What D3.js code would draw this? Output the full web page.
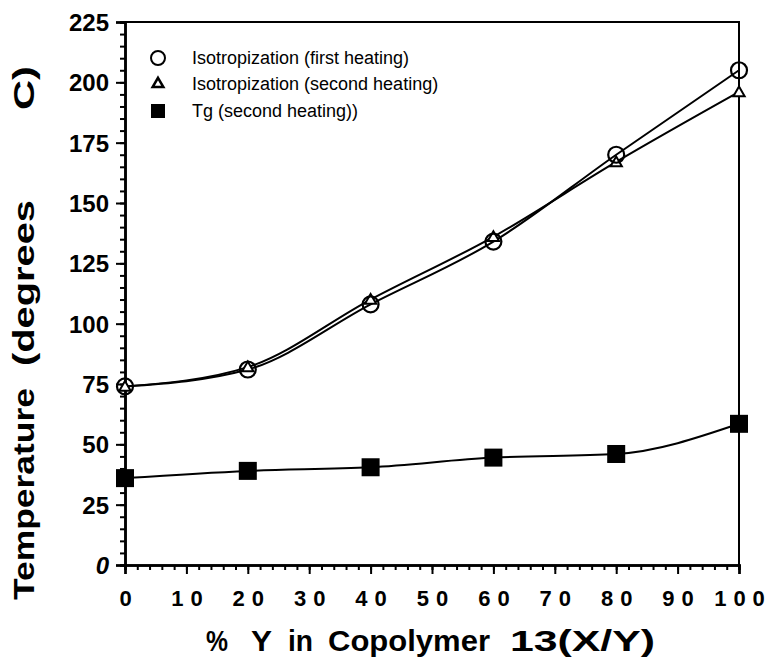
<!DOCTYPE html>
<html>
<head>
<meta charset="utf-8">
<script src="https://cdn.jsdelivr.net/npm/d3@7"></script>
<style>
  body { margin: 0; background: #fff; }
  svg { display: block; font-family: Helvetica, Arial, "Liberation Sans", sans-serif; }
</style>
</head>
<body>
<div id="chart"></div>
<script>
// values
const copolymerY = [0, 20, 40, 60, 80, 100];
const isoFirst = [74, 81, 108, 134, 170, 205];
const isoSecond = [74, 82, 110, 136, 167, 196];
const tgSecond = [36, 39, 40.5, 44.5, 46, 58.5];
const seriesNames = ["Isotropization (first heating)", "Isotropization (second heating)", "Tg (second heating))"];
const yTicks = [0, 25, 50, 75, 100, 125, 150, 175, 200, 225];
const xTicks = [0, 10, 20, 30, 40, 50, 60, 70, 80, 90, 100];

const width = 771;
const height = 659;
const plotLeft = 125, plotRight = 739, plotTop = 22, plotBottom = 565;

const svg = d3.select("#chart").append("svg")
    .attr("width", width)
    .attr("height", height);

const x = d3.scaleLinear().domain([0, 100]).range([plotLeft, plotRight]);
const y = d3.scaleLinear().domain([0, 225]).range([plotBottom, plotTop]);

// frame (top and right)
svg.append("path")
    .attr("d", `M${plotLeft},${plotTop}H${plotRight}V${plotBottom}`)
    .attr("fill", "none")
    .attr("stroke", "#000")
    .attr("stroke-width", 2);

// minor ticks
svg.append("g")
    .attr("transform", `translate(${plotLeft},0)`)
    .call(d3.axisLeft(y).tickValues(d3.range(0, 226, 5)).tickSize(5).tickFormat(""));
svg.append("g")
    .attr("transform", `translate(0,${plotBottom})`)
    .call(d3.axisBottom(x).tickValues(d3.range(0, 101, 2)).tickSize(5).tickFormat(""));

// major ticks + labels
const yAxis = svg.append("g")
    .attr("transform", `translate(${plotLeft},0)`)
    .call(d3.axisLeft(y).tickValues(yTicks).tickSize(9).tickPadding(7));
yAxis.selectAll("text")
    .attr("font-size", 24)
    .attr("font-weight", "bold")
    .attr("font-family", "Helvetica, Arial, 'Liberation Sans', sans-serif")
    .attr("dy", "0.36em")
    .attr("font-style", d => d === 0 ? "italic" : null);

const xAxis = svg.append("g")
    .attr("transform", `translate(0,${plotBottom})`)
    .call(d3.axisBottom(x).tickValues(xTicks).tickSize(9).tickPadding(16));
xAxis.selectAll("text")
    .attr("font-size", 22)
    .attr("font-weight", "bold")
    .attr("font-family", "Helvetica, Arial, 'Liberation Sans', sans-serif")
    .attr("letter-spacing", "7px")
    .attr("dx", "3.5px");

svg.selectAll(".domain").attr("stroke-width", 2.5);
svg.selectAll(".tick line").attr("stroke-width", 2);

// axis titles, word by word
const xTitleWords = ["%", "Y", "in", "Copolymer", "13(X/Y)"];
const xTitleSpan = [[206, 228], [251, 272], [288, 313], [328, 490], [510, 655]];
svg.append("g").selectAll("text")
    .data(xTitleWords)
    .join("text")
    .attr("x", (d, i) => xTitleSpan[i][0])
    .attr("y", 651)
    .attr("font-size", 29)
    .attr("font-weight", "bold")
    .attr("textLength", (d, i) => xTitleSpan[i][1] - xTitleSpan[i][0])
    .attr("lengthAdjust", "spacingAndGlyphs")
    .text(d => d);

const yTitleWords = ["Temperature", "(degrees", "C)"];
const yTitleSpan = [[600, 388], [366, 200], [110, 66]];
svg.append("g").selectAll("text")
    .data(yTitleWords)
    .join("text")
    .attr("transform", (d, i) => `translate(34,${yTitleSpan[i][0]}) rotate(-90)`)
    .attr("font-size", 29)
    .attr("font-weight", "bold")
    .attr("textLength", (d, i) => yTitleSpan[i][0] - yTitleSpan[i][1])
    .attr("lengthAdjust", "spacingAndGlyphs")
    .text(d => d);

// lines
const line = d3.line()
    .x((d, i) => x(copolymerY[i]))
    .y(d => y(d))
    .curve(d3.curveMonotoneX);

[isoFirst, isoSecond, tgSecond].forEach(vals => {
    svg.append("path")
        .attr("d", line(vals))
        .attr("fill", "none")
        .attr("stroke", "#000")
        .attr("stroke-width", 2);
});

// markers
const tri = d3.symbol().type(d3.symbolTriangle);

svg.append("g").selectAll("path")
    .data(isoSecond)
    .join("path")
    .attr("transform", (d, i) => `translate(${x(copolymerY[i])},${y(d) + 1})`)
    .attr("d", tri.size(55)())
    .attr("fill", "#fff")
    .attr("stroke", "#000")
    .attr("stroke-width", 2);

svg.append("g").selectAll("circle")
    .data(isoFirst)
    .join("circle")
    .attr("cx", (d, i) => x(copolymerY[i]))
    .attr("cy", d => y(d))
    .attr("r", 8)
    .attr("fill", "none")
    .attr("stroke", "#000")
    .attr("stroke-width", 2.2);

svg.append("g").selectAll("rect")
    .data(tgSecond)
    .join("rect")
    .attr("x", (d, i) => x(copolymerY[i]) - 9)
    .attr("y", d => y(d) - 9)
    .attr("width", 18)
    .attr("height", 18)
    .attr("fill", "#000");

// legend
const legend = svg.append("g").attr("transform", "translate(158,0)");
const legendY = [58, 84, 111];

legend.append("circle").attr("cx", 0).attr("cy", legendY[0]).attr("r", 7)
    .attr("fill", "none").attr("stroke", "#000").attr("stroke-width", 2);
legend.append("path").attr("transform", `translate(0,${legendY[1]})`)
    .attr("d", tri.size(50)())
    .attr("fill", "#fff").attr("stroke", "#000").attr("stroke-width", 2.5);
legend.append("rect").attr("x", -7).attr("y", legendY[2] - 7).attr("width", 14).attr("height", 14)
    .attr("fill", "#000");

legend.selectAll("text")
    .data(seriesNames)
    .join("text")
    .attr("x", 34)
    .attr("y", (d, i) => legendY[i])
    .attr("dy", "0.36em")
    .attr("font-size", 18)
    .text(d => d);
</script>
</body>
</html>
